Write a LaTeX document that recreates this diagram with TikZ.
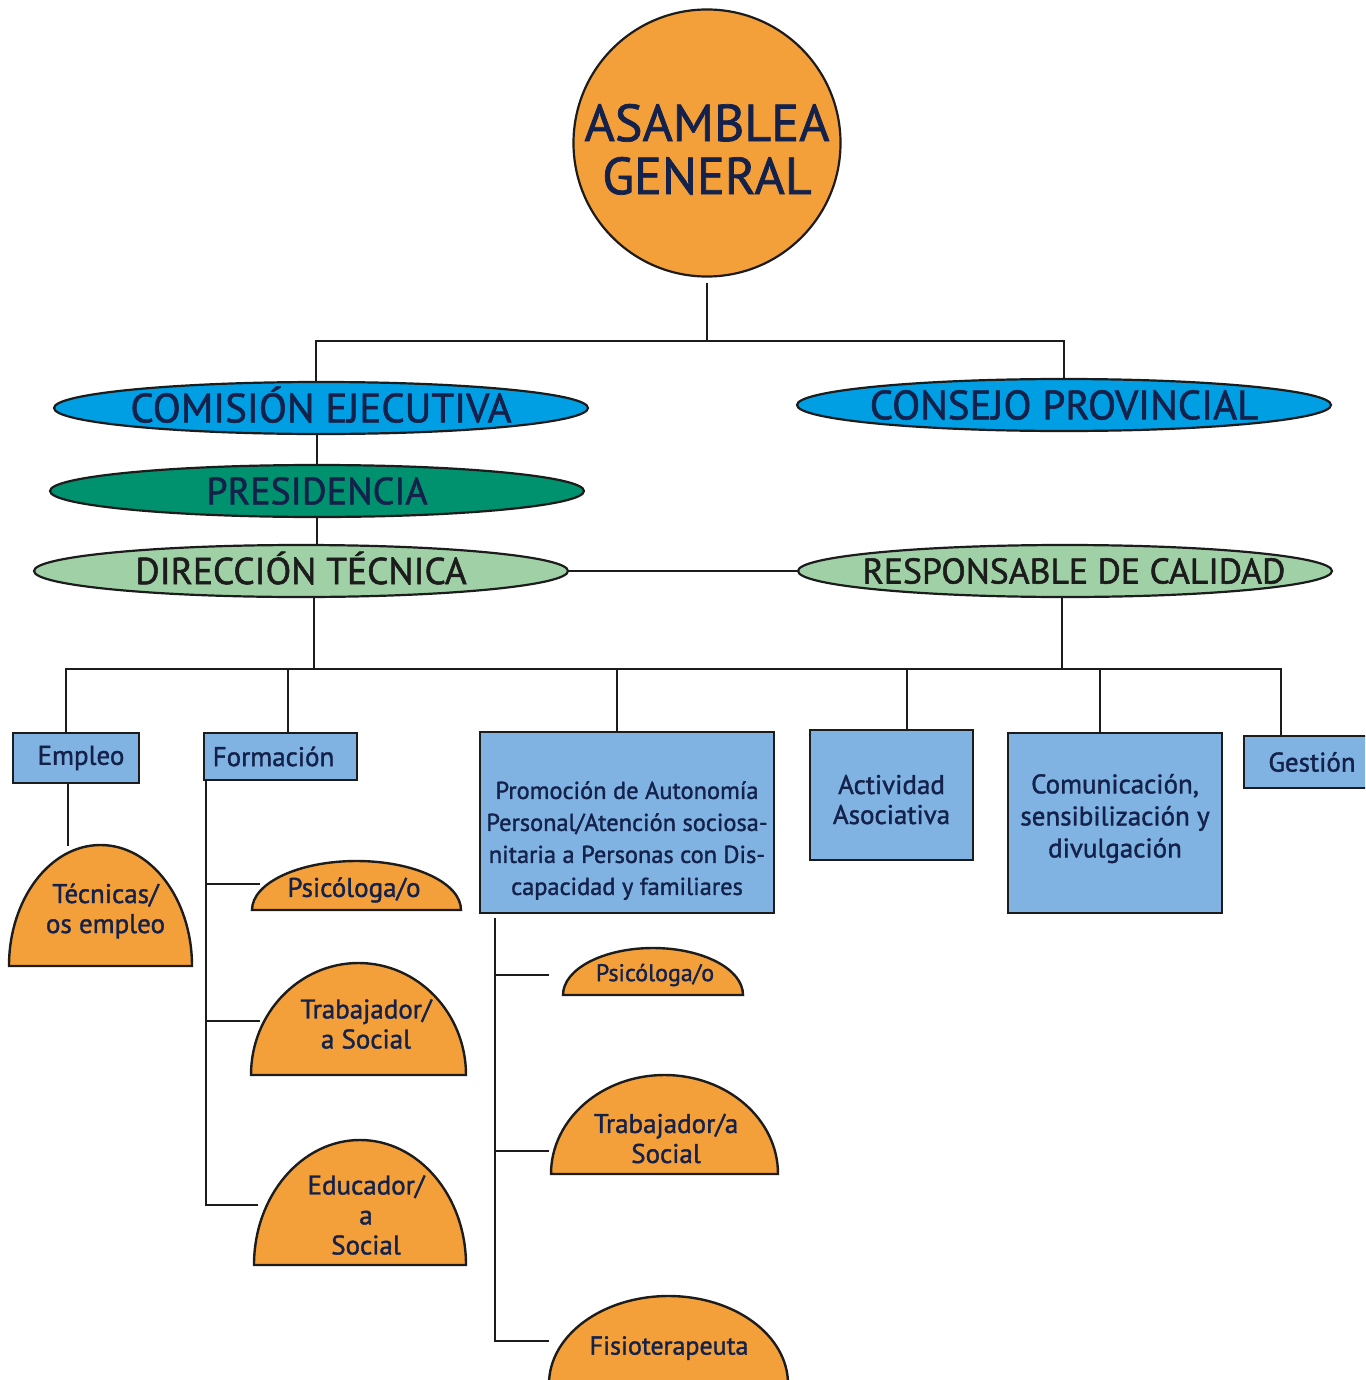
\documentclass[tikz,border=0pt]{standalone}
\usepackage{fontspec}
\setmainfont{PT Sans}[FakeBold=1.4]
\usetikzlibrary{shapes.geometric,calc}
\definecolor{navy}{HTML}{14224B}
\definecolor{orangeF}{HTML}{F4A03A}
\definecolor{blueE}{HTML}{009FE3}
\definecolor{greenD}{HTML}{00916E}
\definecolor{greenL}{HTML}{A0D1A6}
\definecolor{boxB}{HTML}{80B3E1}
\definecolor{inkD}{HTML}{1C1C1C}
\newcommand\orgdome[8]{%
  \draw[domeline] (#2+#4,-#3) arc[start angle=0,end angle=180,x radius=#4,y radius=#5] -- cycle;
  \node[domelabel] (#1) at (#6,-#7) {#8};}
\newcommand\ovaltext[1]{\smash{\raisebox{-0.35em}{\makebox[0pt]{#1}}}}
\begin{document}
\begin{tikzpicture}[x=1pt,y=1pt,
  conn/.style={draw=inkD, line width=2.2pt},
  oval/.style={ellipse, draw=inkD, line width=2.2pt, minimum width=534pt, minimum height=52pt, inner sep=0pt, text=navy},
  ubox/.style={rectangle, draw=inkD, line width=2.2pt, fill=boxB, text=navy, inner sep=0pt, align=center},
  domeline/.style={draw=inkD, line width=2.4pt, fill=orangeF},
  domelabel/.style={text=navy, align=center, inner sep=0pt, font=\fontsize{27}{30}\selectfont}
]
\clip (0,0) rectangle (1365,-1380);
\fill[white] (0,0) rectangle (1365,-1380);

% top circle
\node[circle, draw=inkD, line width=2.2pt, fill=orangeF, minimum size=266pt, inner sep=0pt, text=navy,
  font=\fontsize{52}{53}\selectfont] (AG) at (707,-143)
  {\raisebox{-14pt}[\height][\depth]{\begin{tabular}{@{}c@{}}ASAMBLEA\\GENERAL\end{tabular}}};

% ovals
\node[oval, fill=blueE, font=\fontsize{41}{44}\selectfont] (CE) at (321,-408) {\ovaltext{COMISIÓN EJECUTIVA}};
\node[oval, fill=blueE, font=\fontsize{41}{44}\selectfont] (CP) at (1064,-405) {\ovaltext{CONSEJO PROVINCIAL}};
\node[oval, fill=greenD, font=\fontsize{38}{42}\selectfont] (PR) at (317,-491) {\ovaltext{PRESIDENCIA}};
\node[oval, fill=greenL, text=inkD, font=\fontsize{37.4}{42}\selectfont] (DT) at (301,-571) {\ovaltext{DIRECCIÓN TÉCNICA}};
\node[oval, fill=greenL, text=inkD, font=\fontsize{35.7}{40}\selectfont] (RC) at (1065,-571) {\ovaltext{\hspace*{18pt}RESPONSABLE DE CALIDAD}};

% boxes
\node[ubox, minimum width=126pt, minimum height=50pt, font=\fontsize{27}{30}\selectfont] (EM) at (76,-758) {\hspace*{10pt}Empleo};
\node[ubox, minimum width=153pt, minimum height=47pt, font=\fontsize{27}{30}\selectfont] (FO) at (280.5,-756.5) {Formación\hspace*{14pt}};
\node[ubox, minimum width=294pt, minimum height=181pt, font=\fontsize{24.4}{32}\selectfont] (PA) at (627,-822.5)
  {\raisebox{-18pt}[\height][\depth]{\begin{tabular}{@{}c@{}}Promoción de Autonomía\\Personal/Atención sociosa-\\nitaria a Personas con Dis-\\capacidad y familiares\end{tabular}}};
\node[ubox, minimum width=163pt, minimum height=130pt, font=\fontsize{27}{30}\selectfont] (AA) at (891.5,-795)
  {\raisebox{-8pt}[\height][\depth]{\begin{tabular}{@{}c@{}}Actividad\\Asociativa\end{tabular}}};
\node[ubox, minimum width=214pt, minimum height=180pt, font=\fontsize{27}{32}\selectfont] (CO) at (1115,-823)
  {\raisebox{4pt}[\height][\depth]{\begin{tabular}{@{}c@{}}Comunicación,\\sensibilización y\\divulgación\end{tabular}}};
\node[ubox, minimum width=136pt, minimum height=52pt, font=\fontsize{27}{30}\selectfont] (GE) at (1312,-762) {Gestión};

% domes
\orgdome{TE}{100.5}{966}{91.5}{121}{105.5}{911}{Técnicas/\\os empleo}
\orgdome{PF}{356.5}{910}{104.5}{49}{354}{890}{Psicóloga/o}
\orgdome{TF}{358.5}{1075}{107.5}{112}{366}{1024}{Trabajador/\\a Social}
\orgdome{EF}{360}{1265}{106}{125}{366}{1215}{Educador/\\a\\Social}
\orgdome{PP}{653}{995}{90}{47}{655}{975}{\fontsize{24}{28}\selectfont Psicóloga/o}
\orgdome{TP}{664.5}{1174}{113.5}{99}{666}{1138.5}{Trabajador/a\\Social}
\orgdome{FP}{668.5}{1384}{119.5}{88}{669}{1348}{\fontsize{26}{30}\selectfont Fisioterapeuta}

% connector coordinates
\coordinate (busA) at (0,-341);
\coordinate (busB) at (0,-669);
\coordinate (TE-in) at (68,-846);
\coordinate (Ft) at ([xshift=3pt]FO.south west);
\coordinate (PF-in) at (260,-884);
\coordinate (TF-in) at (260,-1021);
\coordinate (EF-in) at (258,-1205);
\coordinate (Pt) at ([xshift=16pt,yshift=-4pt]PA.south west);
\coordinate (PP-in) at (549,-975);
\coordinate (TP-in) at (549,-1151);
\coordinate (FP-in) at (549,-1341);

% connectors
\draw[conn] ([yshift=-5pt]AG.south) -- (AG.south |- busA);
\draw[conn] ([xshift=-5pt]CE.north) -- ([xshift=-5pt]CE.north |- busA) -| (CP.north);
\draw[conn] (PR.north) -- (PR.north |- CE.south);
\draw[conn] (PR.south) -- (PR.south |- DT.north);
\draw[conn] (DT.east) -- (RC.west);
\draw[conn] ([xshift=13pt]DT.south) -- ([xshift=13pt]DT.south |- busB);
\draw[conn] ([xshift=-3pt]RC.south) -- ([xshift=-3pt]RC.south |- busB);
\draw[conn] ([xshift=-10pt]EM.north) |- ([xshift=-31pt]GE.north |- busB) -- ([xshift=-31pt]GE.north);
\draw[conn] ([xshift=7.5pt]FO.north) -- ([xshift=7.5pt]FO.north |- busB);
\draw[conn] ([xshift=-10pt]PA.north) -- ([xshift=-10pt]PA.north |- busB);
\draw[conn] ([xshift=15.5pt]AA.north) -- ([xshift=15.5pt]AA.north |- busB);
\draw[conn] ([xshift=-15pt]CO.north) -- ([xshift=-15pt]CO.north |- busB);

\draw[conn] ([xshift=-8pt]EM.south) -- (TE-in);
\draw[conn] (Ft) |- (EF-in);
\draw[conn] (Ft |- PF-in) -- (PF-in);
\draw[conn] (Ft |- TF-in) -- (TF-in);
\draw[conn] (Pt) |- (FP-in);
\draw[conn] (Pt |- PP-in) -- (PP-in);
\draw[conn] (Pt |- TP-in) -- (TP-in);
\end{tikzpicture}
\end{document}
